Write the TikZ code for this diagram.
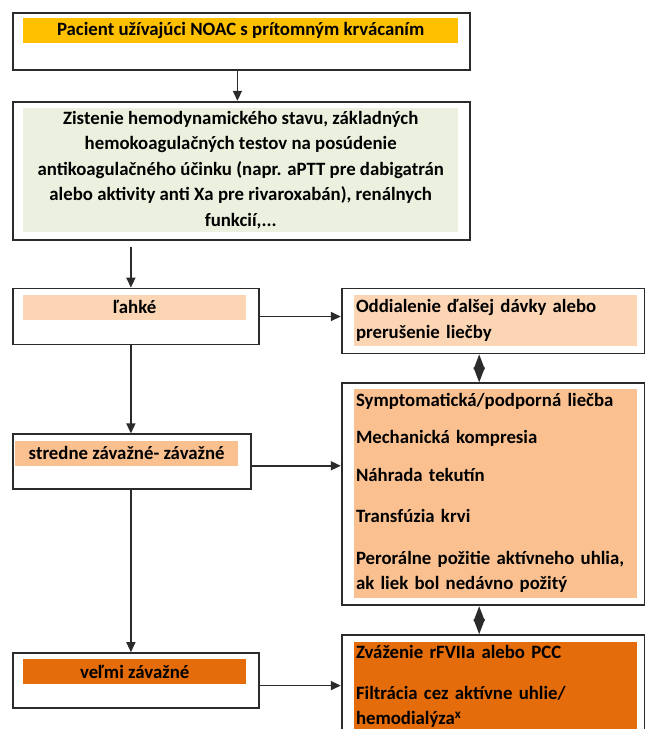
\documentclass[tikz,border=0pt]{standalone}
\usepackage{fontspec}
\setmainfont{Carlito}
\usepackage{xcolor}
\usetikzlibrary{arrows.meta, positioning}

\definecolor{gold}{HTML}{FFC000}
\definecolor{sage}{HTML}{EBF1DE}
\definecolor{peachlight}{HTML}{FCD5B5}
\definecolor{peach}{HTML}{FAC090}
\definecolor{burnt}{HTML}{E46C0A}
\definecolor{frame}{HTML}{2B2B2B}

\begin{document}
\begin{tikzpicture}[
  x=1pt, y=-1pt,
  box/.style={draw=frame, line width=1.8pt, fill=white, inner sep=0pt},
  band/.style={inner sep=0pt, font=\bfseries\fontsize{18.8}{25.5}\selectfont},
  lefttext/.style={align=left, text width=#1},
  arr/.style={-{Triangle[length=10pt, width=9pt]}, line width=1.5pt, draw=frame},
  dbl/.style={{Triangle[length=15pt, width=11pt]}-{Triangle[length=15pt, width=11pt]}, line width=1.5pt, draw=frame},
]
  \clip (0,0) rectangle (645,729);
  \fill[white] (0,0) rectangle (645,729);

  % left column
  \node[box, minimum width=457pt, minimum height=57pt, anchor=north west] at (12,12) (pacient) {};
  \node[box, minimum width=457pt, minimum height=138pt, below=30pt of pacient] (zistenie) {};
  \node[box, minimum width=246pt, minimum height=56pt, below=47pt of zistenie.south west, anchor=north west] (lahke) {};
  \node[box, minimum width=238pt, minimum height=55pt, below=88pt of lahke.south west, anchor=north west] (stredne) {};
  \node[box, minimum width=246pt, minimum height=55pt, below=162pt of stredne.south west, anchor=north west] (velmi) {};

  % right column
  \node[box, minimum width=303pt, minimum height=65pt, right=81pt of lahke.north east, anchor=north west] (oddialenie) {};
  \node[box, minimum width=303pt, minimum height=222pt, below=28pt of oddialenie.south west, anchor=north west] (liecba) {};
  \node[box, minimum width=303pt, minimum height=120pt, below=28pt of liecba.south west, anchor=north west] (zvazenie) {};

  % coloured bands with the texts
  \node[band, fill=gold, minimum width=435pt, minimum height=25pt, below right=6pt and 11pt of pacient.north west]
    (pacientT) {Pacient užívajúci NOAC s prítomným krvácaním};
  \node[band, fill=sage, minimum width=435pt, minimum height=124pt, align=center, below right=7pt and 11pt of zistenie.north west]
    (zistenieT) {Zistenie hemodynamického stavu, základných\\hemokoagulačných testov na posúdenie\\antikoagulačného účinku (napr. aPTT pre dabigatrán\\alebo aktivity anti Xa pre rivaroxabán), renálnych\\funkcií,...};
  \node[band, fill=peachlight, minimum width=223pt, minimum height=25pt, below right=7pt and 11pt of lahke.north west]
    (lahkeT) {ľahké};
  \node[band, fill=peach, minimum width=223pt, minimum height=25pt, below right=7pt and 3pt of stredne.north west]
    (stredneT) {stredne závažné- závažné};
  \node[band, fill=burnt, minimum width=223pt, minimum height=25pt, below right=7pt and 11pt of velmi.north west]
    (velmiT) {veľmi závažné};
  \node[band, fill=peachlight, minimum width=283pt, minimum height=51pt, lefttext=279pt, inner xsep=2pt, below right=7pt and 13pt of oddialenie.north west]
    (oddialenieT) {Oddialenie ďalšej dávky alebo\\prerušenie liečby};
  \node[band, fill=peach, minimum width=283pt, minimum height=209pt, lefttext=279pt, inner xsep=2pt, below right=6pt and 13pt of liecba.north west]
    (liecbaT) {Symptomatická/podporná liečba\\[12pt]Mechanická kompresia\\[12pt]Náhrada tekutín\\[16pt]Transfúzia krvi\\[16pt]Perorálne požitie aktívneho uhlia,\\ak liek bol nedávno požitý};
  \node[band, fill=burnt, minimum width=283pt, minimum height=88pt, lefttext=279pt, inner xsep=2pt, below right=8pt and 13pt of zvazenie.north west]
    (zvazenieT) {Zváženie rFVIIa alebo PCC\\[15pt]Filtrácia cez aktívne uhlie/\\hemodialýza\textsuperscript{x}};

  % connectors
  \draw[arr] ([xshift=-4pt]pacient.south) -- ([xshift=-4pt]pacient.south |- zistenie.north);
  \draw[arr, shorten <=6pt] (zistenie.south west -| lahke.north) ++(-5,0) coordinate (z) (z) -- (z |- lahke.north);
  \draw[arr] ([xshift=-5pt]lahke.south) -- ([xshift=-5pt]lahke.south |- stredne.north);
  \draw[arr] ([xshift=-5pt]lahke.south |- stredne.south) coordinate (s) (s) -- (s |- velmi.north);
  \draw[arr] (lahke.east) -- (lahke.east -| oddialenie.west);
  \draw[arr] (stredne.east) ++(0,4) coordinate (se) (se) -- (se -| liecba.west);
  \draw[arr] (velmi.east) ++(0,5) coordinate (ve) (ve) -- (ve -| zvazenie.west);
  % double arrows between the treatments
  \draw[dbl] ([xshift=-14pt]oddialenie.south) -- ([xshift=-14pt]liecba.north);
  \draw[dbl] ([xshift=-14pt]liecba.south) -- ([xshift=-14pt]zvazenie.north);
\end{tikzpicture}
\end{document}
